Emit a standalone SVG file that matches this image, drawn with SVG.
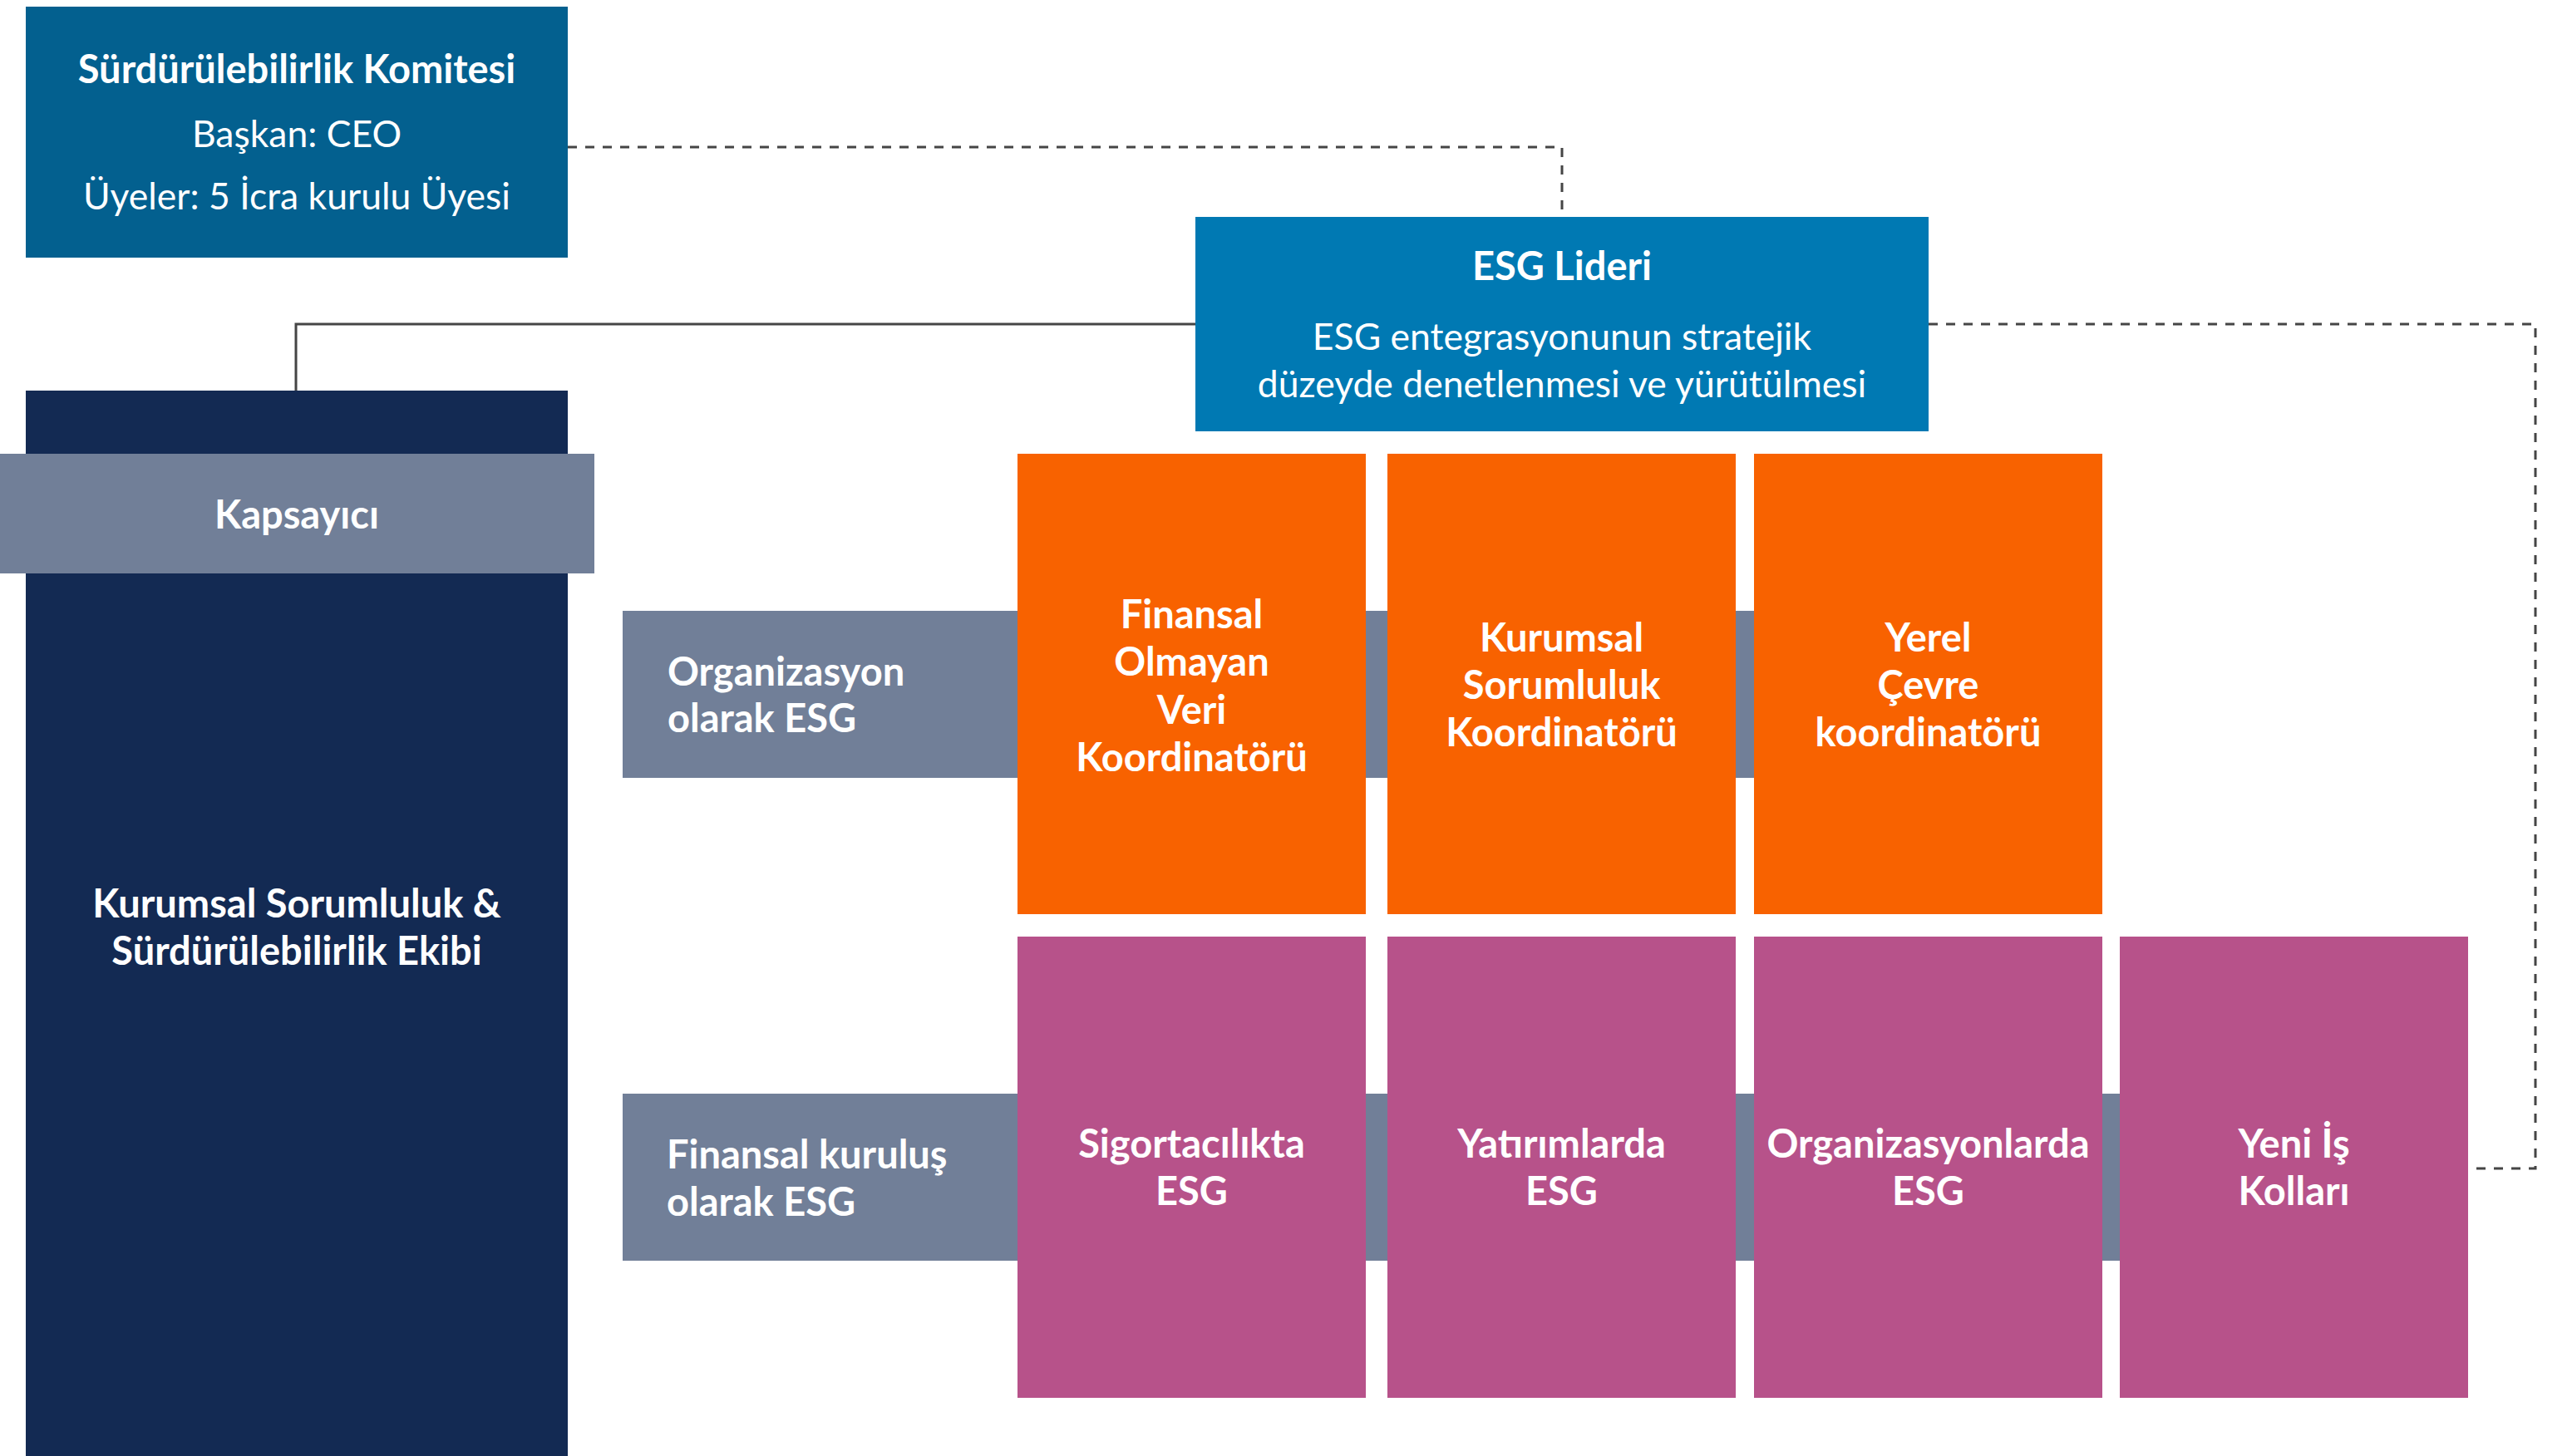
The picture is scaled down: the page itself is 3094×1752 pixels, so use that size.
<svg xmlns="http://www.w3.org/2000/svg" width="3094" height="1752" viewBox="0 0 3094 1752">
<style>
text{font-family:Lato,"Open Sans","Liberation Sans",sans-serif;fill:#fff;font-size:45px}
.b{font-weight:700;font-size:47px}
.r{font-weight:400;font-size:44.5px}
.c{text-anchor:middle}
.gray{fill:#717F98}
.org{fill:#F86200}
.mag{fill:#B7528A}
.ln{fill:none;stroke:#454545;stroke-width:3}
.dash{stroke-dasharray:11 10}
</style>
<rect width="3094" height="1752" fill="#fff"/>
<g id="connectors">
<polyline class="ln dash" points="683,177 1879,177 1879,261"/>
<polyline class="ln dash" points="2320,390 3050,390 3050,1406 2969,1406"/>
<polyline class="ln" points="1438,390 356,390 356,470"/>
</g>
<g id="committee">
<rect x="31" y="8" width="652" height="302" fill="#03608F"/>
<text class="b c" x="357" y="100">Sürdürülebilirlik Komitesi</text>
<text class="r c" x="357" y="177">Başkan: CEO</text>
<text class="r c" x="357" y="252">Üyeler: 5 İcra kurulu Üyesi</text>
</g>
<g id="esg-lideri">
<rect x="1438" y="261" width="882" height="258" fill="#0079B3"/>
<text class="b c" x="1879" y="337">ESG Lideri</text>
<text class="r c" x="1879" y="421">ESG entegrasyonunun stratejik</text>
<text class="r c" x="1879" y="478">düzeyde denetlenmesi ve yürütülmesi</text>
</g>
<g id="ekip">
<rect x="31" y="470" width="652" height="1282" fill="#132A53"/>
<text class="b c" x="357" y="1104">Kurumsal Sorumluluk &amp;</text>
<text class="b c" x="357" y="1161">Sürdürülebilirlik Ekibi</text>
</g>
<g id="kapsayici">
<rect class="gray" x="0" y="546" width="715" height="144"/>
<text class="b c" x="357" y="636">Kapsayıcı</text>
</g>
<g id="org-esg">
<rect class="gray" x="749" y="735" width="1780" height="201"/>
<text class="b" x="803" y="825">Organizasyon</text>
<text class="b" x="803" y="881">olarak ESG</text>
</g>
<g id="fin-esg">
<rect class="gray" x="749" y="1316" width="2220" height="201"/>
<text class="b" x="802" y="1406">Finansal kuruluş</text>
<text class="b" x="802" y="1463">olarak ESG</text>
</g>
<g id="finansal-olmayan">
<rect class="org" x="1224" y="546" width="419" height="554"/>
<text class="b c" x="1433.5" y="756">Finansal</text>
<text class="b c" x="1433.5" y="813">Olmayan</text>
<text class="b c" x="1433.5" y="871">Veri</text>
<text class="b c" x="1433.5" y="928">Koordinatörü</text>
</g>
<g id="kurumsal-sorumluluk">
<rect class="org" x="1669" y="546" width="419" height="554"/>
<text class="b c" x="1878.5" y="784">Kurumsal</text>
<text class="b c" x="1878.5" y="841">Sorumluluk</text>
<text class="b c" x="1878.5" y="898">Koordinatörü</text>
</g>
<g id="yerel-cevre">
<rect class="org" x="2110" y="546" width="419" height="554"/>
<text class="b c" x="2319.5" y="784">Yerel</text>
<text class="b c" x="2319.5" y="841">Çevre</text>
<text class="b c" x="2319.5" y="898">koordinatörü</text>
</g>
<g id="sigortacilik">
<rect class="mag" x="1224" y="1127" width="419" height="555"/>
<text class="b c" x="1433.5" y="1393">Sigortacılıkta</text>
<text class="b c" x="1433.5" y="1450">ESG</text>
</g>
<g id="yatirim">
<rect class="mag" x="1669" y="1127" width="419" height="555"/>
<text class="b c" x="1878.5" y="1393">Yatırımlarda</text>
<text class="b c" x="1878.5" y="1450">ESG</text>
</g>
<g id="organizasyon">
<rect class="mag" x="2110" y="1127" width="419" height="555"/>
<text class="b c" x="2319.5" y="1393">Organizasyonlarda</text>
<text class="b c" x="2319.5" y="1450">ESG</text>
</g>
<g id="yeni-is">
<rect class="mag" x="2550" y="1127" width="419" height="555"/>
<text class="b c" x="2759.5" y="1393">Yeni İş</text>
<text class="b c" x="2759.5" y="1450">Kolları</text>
</g>
</svg>
